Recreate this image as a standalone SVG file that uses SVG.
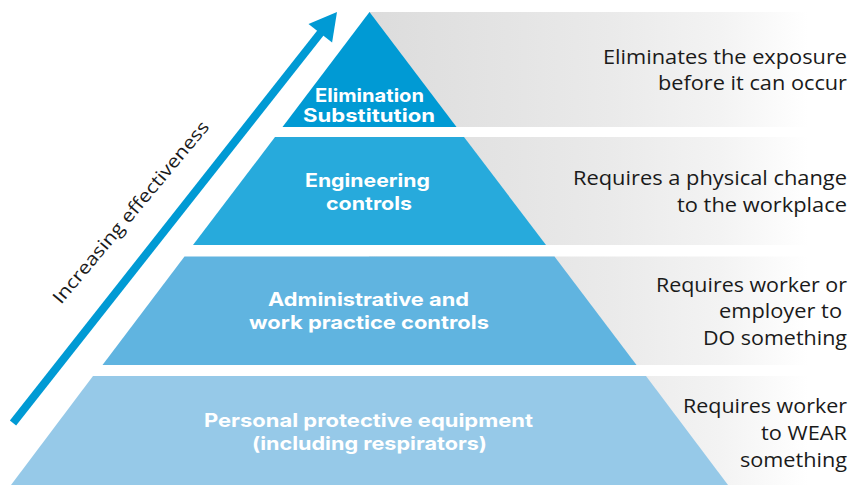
<svg xmlns="http://www.w3.org/2000/svg" width="851" height="485" viewBox="0 0 851 485">
  <defs>
    <linearGradient id="band" gradientUnits="userSpaceOnUse" x1="369" y1="0" x2="808" y2="0">
      <stop offset="0" stop-color="#dcdcdc"/>
      <stop offset="0.55" stop-color="#eaeaea"/>
      <stop offset="0.8" stop-color="#f3f3f3"/>
      <stop offset="1" stop-color="#ffffff"/>
    </linearGradient>
    <style>
      .band { fill: url(#band); }
      .lbl { font-family: "Inter", "Open Sans", "Liberation Sans", sans-serif; font-weight: 700; font-size: 18.5px; fill: #ffffff; }
      .desc { font-family: "Open Sans", "Liberation Sans", sans-serif; font-weight: 400; font-size: 19.5px; fill: #1a1a1a; text-anchor: end; }
      .side { font-family: "Open Sans", "Liberation Sans", sans-serif; font-weight: 400; font-size: 18px; fill: #1a1a1a; }
    </style>
  </defs>
  <rect width="851" height="485" fill="#ffffff"/>

  <g id="tier-elimination">
    <rect class="band" x="369" y="12" width="482" height="115"/>
    <polygon points="369.5,12 456.5,127 282.5,127" fill="#009ad4"/>
    <text class="lbl" x="315" y="101.5" textLength="109" lengthAdjust="spacingAndGlyphs">Elimination</text>
    <text class="lbl" x="303" y="121.5" textLength="132" lengthAdjust="spacingAndGlyphs">Substitution</text>
    <text class="desc" x="847" y="63.5" textLength="244" lengthAdjust="spacingAndGlyphs">Eliminates the exposure</text>
    <text class="desc" x="847" y="90" textLength="189" lengthAdjust="spacingAndGlyphs">before it can occur</text>
  </g>

  <g id="tier-engineering">
    <rect class="band" x="369" y="137" width="482" height="108"/>
    <polygon points="275,137 464,137 546,245 193,245" fill="#27aadc"/>
    <text class="lbl" x="305" y="186.5" textLength="125" lengthAdjust="spacingAndGlyphs">Engineering</text>
    <text class="lbl" x="326" y="210" textLength="86" lengthAdjust="spacingAndGlyphs">controls</text>
    <text class="desc" x="847" y="185" textLength="274" lengthAdjust="spacingAndGlyphs">Requires a physical change</text>
    <text class="desc" x="847" y="211.5" textLength="170" lengthAdjust="spacingAndGlyphs">to the workplace</text>
  </g>

  <g id="tier-administrative">
    <rect class="band" x="369" y="256.5" width="482" height="108.5"/>
    <polygon points="184.5,256.5 554.5,256.5 636.5,365 102.5,365" fill="#60b4e0"/>
    <text class="lbl" x="268" y="306" textLength="201" lengthAdjust="spacingAndGlyphs">Administrative and</text>
    <text class="lbl" x="249" y="329" textLength="240" lengthAdjust="spacingAndGlyphs">work practice controls</text>
    <text class="desc" x="847" y="291.5" textLength="191" lengthAdjust="spacingAndGlyphs">Requires worker or</text>
    <text class="desc" x="842" y="318" textLength="123" lengthAdjust="spacingAndGlyphs">employer to</text>
    <text class="desc" x="847" y="345" textLength="144" lengthAdjust="spacingAndGlyphs">DO something</text>
  </g>

  <g id="tier-ppe">
    <rect class="band" x="369" y="376" width="482" height="109"/>
    <polygon points="93,376 646,376 728,485 11,485" fill="#96c9e8"/>
    <text class="lbl" x="204" y="427" textLength="329" lengthAdjust="spacingAndGlyphs">Personal protective equipment</text>
    <text class="lbl" x="252" y="450" textLength="235" lengthAdjust="spacingAndGlyphs">(including respirators)</text>
    <text class="desc" x="847" y="412.5" textLength="164" lengthAdjust="spacingAndGlyphs">Requires worker</text>
    <text class="desc" x="847" y="440" textLength="86" lengthAdjust="spacingAndGlyphs">to WEAR</text>
    <text class="desc" x="847" y="466.5" textLength="107" lengthAdjust="spacingAndGlyphs">something</text>
  </g>

  <g id="connectors">
    <line x1="13" y1="423" x2="322" y2="31" stroke="#009ad4" stroke-width="8"/>
    <polygon points="337,12 332.1,42.5 308.5,23.9" fill="#009ad4"/>
  </g>

  <g id="axis-label">
    <text class="side" transform="translate(61,305) rotate(-50)" x="0" y="0" textLength="232" lengthAdjust="spacingAndGlyphs">Increasing effectiveness</text>
  </g>
</svg>
